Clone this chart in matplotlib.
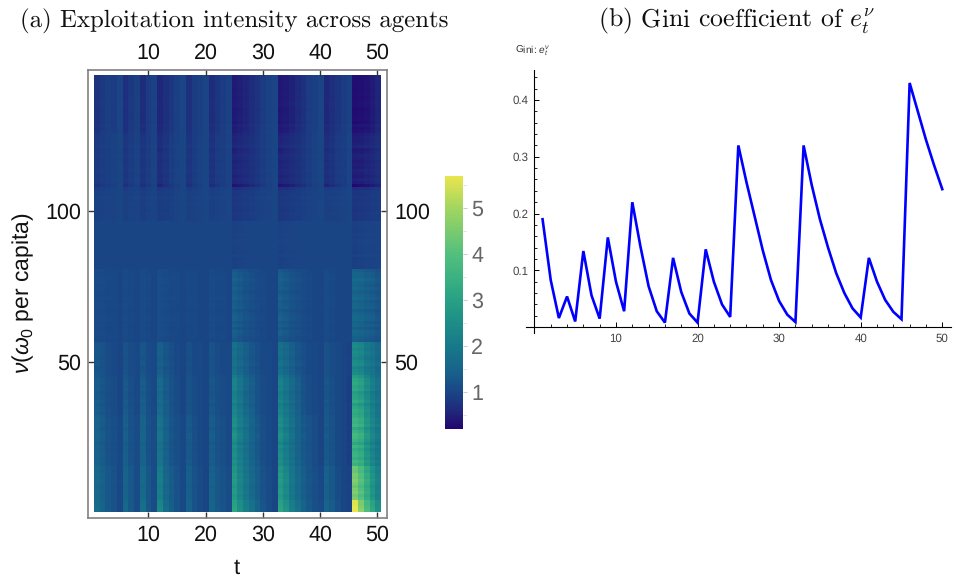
import numpy as np
import matplotlib
matplotlib.use('Agg')
import matplotlib.pyplot as plt
from matplotlib.colors import LinearSegmentedColormap
from matplotlib.ticker import MultipleLocator

plt.rcParams['font.family'] = 'Liberation Sans'
plt.rcParams['mathtext.fontset'] = 'custom'
plt.rcParams['mathtext.rm'] = 'Liberation Sans'
plt.rcParams['mathtext.it'] = 'Liberation Sans:italic'
plt.rcParams['text.hinting'] = 'no_hinting'

# Gini of e_t^nu for t = 1..50
gini = [.19, .083, .016, .054, .01, .134, .056, .015, .158, .08,
        .028, .22, .142, .072, .028, .008, .122, .062, .024, .008,
        .137, .08, .04, .018, .32, .255, .195, .135, .083, .046,
        .022, .009, .32, .25, .19, .14, .095, .06, .033, .017,
        .122, .08, .048, .027, .014, .43, .38, .33, .285, .243]

# exploitation intensity, one row per band of nu, one value per t
band_tops = [4, 15, 32, 45, 56, 80, 96, 107, 125, 144]
band_1 = [1.7, 1.5, 1.3, 1.2, 1.05, 1.6, 1.3, 1.1, 1.75, 1.3, 1.1, 2.3, 1.7, 1.4, 1.2, 1.05, 1.45, 1.2, 1.1, 1.0,
          1.5, 1.3, 1.2, 1.1, 3.0, 2.5, 2.1, 1.8, 1.5, 1.25, 1.1, 1.0, 3.0, 2.6, 2.1, 1.8, 1.5, 1.3, 1.15, 1.1,
          1.5, 1.35, 1.15, 1.0, .95, 5.6, 4.5, 3.7, 3.1, 2.5]
band_2 = [1.65, 1.45, 1.3, 1.2, 1.05, 1.5, 1.3, 1.1, 1.65, 1.3, 1.1, 2.1, 1.6, 1.35, 1.2, 1.05, 1.4, 1.2, 1.1, 1.0,
          1.45, 1.3, 1.2, 1.1, 2.8, 2.3, 1.95, 1.65, 1.4, 1.2, 1.1, 1.0, 2.8, 2.4, 1.95, 1.65, 1.4, 1.25, 1.15, 1.05,
          1.45, 1.3, 1.1, 1.0, .95, 4.5, 4.0, 3.3, 2.7, 2.25]
band_3 = [1.5, 1.35, 1.2, 1.15, 1.05, 1.4, 1.2, 1.1, 1.5, 1.2, 1.1, 1.85, 1.45, 1.25, 1.15, 1.05, 1.3, 1.15, 1.05, 1.0,
          1.35, 1.2, 1.15, 1.05, 2.5, 2.1, 1.8, 1.5, 1.3, 1.15, 1.05, 1.0, 2.45, 2.1, 1.8, 1.5, 1.3, 1.2, 1.1, 1.0,
          1.3, 1.2, 1.05, 1.0, .9, 3.5, 3.3, 2.7, 2.3, 2.0]
band_4 = [1.35, 1.25, 1.15, 1.1, 1.0, 1.3, 1.15, 1.05, 1.35, 1.15, 1.05, 1.65, 1.35, 1.2, 1.1, 1.0, 1.2, 1.1, 1.05, 1.0,
          1.25, 1.15, 1.1, 1.05, 2.2, 1.9, 1.6, 1.4, 1.2, 1.1, 1.05, 1.0, 2.15, 1.9, 1.65, 1.4, 1.2, 1.1, 1.05, 1.0,
          1.25, 1.15, 1.05, 1.0, .9, 3.1, 2.9, 2.45, 2.1, 1.85]
band_5 = [1.25, 1.2, 1.1, 1.05, 1.0, 1.2, 1.1, 1.05, 1.25, 1.1, 1.05, 1.4, 1.25, 1.15, 1.05, 1.0, 1.15, 1.05, 1.05, 1.0,
          1.2, 1.1, 1.05, 1.05, 1.8, 1.6, 1.4, 1.25, 1.15, 1.05, 1.05, 1.0, 1.75, 1.6, 1.4, 1.25, 1.15, 1.05, 1.05, 1.0,
          1.2, 1.1, 1.05, 1.0, .95, 2.4, 2.3, 2.0, 1.85, 1.65]
band_6 = [1.08, 1.08, 1.05, 1.05, 1.0, 1.08, 1.05, 1.0, 1.08, 1.05, 1.0, 1.12, 1.08, 1.05, 1.05, 1.0, 1.05, 1.05, 1.0, 1.0,
          1.08, 1.05, 1.05, 1.0, 1.4, 1.3, 1.2, 1.15, 1.08, 1.05, 1.0, 1.0, 1.38, 1.3, 1.2, 1.15, 1.08, 1.05, 1.0, 1.0,
          1.1, 1.05, 1.0, 1.0, 1.0, 1.55, 1.5, 1.4, 1.35, 1.25]
band_7 = [1.0, 1.0, 1.0, 1.0, 1.0, 1.0, 1.0, 1.0, 1.0, 1.0, 1.0, 1.0, 1.0, 1.0, 1.0, 1.0, 1.0, 1.0, 1.0, 1.0,
          1.0, 1.0, 1.0, 1.0, .95, .97, .98, 1.0, 1.0, 1.0, 1.0, 1.0, .95, .97, .98, 1.0, 1.0, 1.0, 1.0, 1.0,
          1.0, 1.0, 1.0, 1.0, 1.0, .93, .95, .96, .97, .98]
band_8 = [.92, .95, .97, .97, 1.0, .92, .95, .97, .9, .95, .97, .88, .9, .93, .97, 1.0, .93, .95, .97, 1.0,
          .92, .95, .97, .98, .8, .82, .85, .88, .92, .95, .97, 1.0, .8, .82, .85, .88, .92, .95, .97, 1.0,
          .92, .93, .95, .97, 1.0, .78, .8, .82, .85, .88]
band_9 = [.82, .88, .92, .95, 1.0, .8, .88, .95, .78, .88, .97, .68, .78, .88, .95, 1.0, .78, .88, .95, 1.0,
          .75, .85, .9, .97, .55, .6, .65, .72, .8, .88, .95, 1.0, .55, .6, .65, .72, .8, .88, .95, 1.0,
          .68, .75, .85, .9, .98, .48, .5, .55, .6, .68]
band_10 = [.72, .82, .9, .85, .98, .68, .82, .92, .65, .85, .95, .58, .7, .8, .92, .98, .7, .85, .92, .98,
           .65, .78, .88, .95, .42, .48, .55, .65, .75, .85, .95, .98, .4, .45, .52, .62, .72, .85, .92, .98,
           .58, .68, .78, .88, .95, .3, .32, .36, .45, .55]
bands = [band_1, band_2, band_3, band_4, band_5, band_6, band_7, band_8, band_9, band_10]

# row by row stripe strength, nu = 1..144
stripes = [.08, .04, 0, 0, .02, -.04, .04, 0, -.06, 0, .04, -.02, 0, -.08, -.04, 0,
           .08, -.04, .04, 0, -.08, .04, -.12, 0, .08, .1, 0, -.1, .08, 0, .04, -.06,
           .08, .12, .04, -.08, .1, 0, -.04, -.1, .06, 0, .08, .02, -.12, .04, 0, -.08,
           .12, .04, -.08, 0, .08, -.04, .04, 0, -.3, -.2, .05, .15, -.25, .1, -.1, .2,
           .15, -.05, -.25, .1, .05, -.15, .2, 0, -.2, .1, -.1, .05, .25, -.05, 0, -.25,
           0, 0, 0, .4, -.3, .3, 0, 0, -.2, -.3, 0, -.2, .3, 0, 0, 0,
           .05, 0, -.05, .1, 0, -.05, .05, -.1, 0, .05, .5, .4, .05, -.05, .1, 0,
           -.05, .05, 0, .1, 0, -.05, .08, .15, -.1, 0, .05, .03, .1, -.05, 0, -.08,
           .05, 0, 0, .03, .05, 0, -.03, 0, .03, 0, 0, .03, 0, 0, 0, 0]

# colour bar anchors: value, colour
cb_values = [.2, .6, 1.0, 1.4, 2.0, 2.6, 3.2, 4.0, 5.0, 5.7]
cb_colors = ['#230670', '#1f2a7c', '#1a4686', '#185f8b', '#17798a', '#1f9187',
             '#2ea883', '#52bf7e', '#a2d660', '#e9e54e']

v_min, v_max = cb_values[0], cb_values[-1]
cmap = LinearSegmentedColormap.from_list(
    'expl', [((v - v_min) / (v_max - v_min), c) for v, c in zip(cb_values, cb_colors)])

# build the matrix from bands and stripes
rows = []
low = 0
for top, band in zip(band_tops, bands):
    for nu in range(low, top):
        rows.append([1 + (b - 1) * (1 + stripes[nu]) if b > 1 else b - (1 - b + .03) * stripes[nu]
                     for b in band])
    low = top
matrix = np.array(rows)

W, H = 958, 577
fig = plt.figure(figsize=(W / 100, H / 100), dpi=100)


def box(x0, y0, x1, y1):
    return [x0 / W, 1 - y1 / H, (x1 - x0) / W, (y1 - y0) / H]


# (a) heat map
ax = fig.add_axes(box(88, 70, 387, 518))
im = ax.imshow(matrix, origin='lower', extent=[.5, 50.5, .5, 144.5], aspect='auto',
               cmap=cmap, vmin=v_min, vmax=v_max, interpolation='nearest')
ax.set_xlim(-.52, 51.67)
ax.set_ylim(-1.5, 146.4)
ax.set_xticks([10, 20, 30, 40, 50])
ax.set_yticks([50, 100])
ax.tick_params(direction='in', length=4, width=1, top=True, right=True, labeltop=True,
               labelright=True, labelsize=15.5, color='#333333', labelcolor='#111111', pad=5)
for s in ax.spines.values():
    s.set_color('#808080')
    s.set_linewidth(1.2)

fig.text(237 / W, 1 - 568 / H, 't', fontsize=16, ha='center', va='center', color='#111111')
fig.text(23 / W, 1 - 293 / H, r'$\nu$($\omega_0$ per capita)', fontsize=16.5, rotation=90,
         ha='center', va='center', color='#111111')

# colour bar
cax = fig.add_axes(box(445, 175.7, 463, 429))
cb = fig.colorbar(im, cax=cax)
cb.set_ticks([1, 2, 3, 4, 5])
cb.ax.yaxis.set_minor_locator(MultipleLocator(.5))
cb.ax.tick_params(which='major', length=3, width=.8, color='#cccccc', labelsize=15.5,
                  labelcolor='#666666', pad=3)
cb.ax.tick_params(which='minor', length=2, width=.6, color='#dddddd')
cb.outline.set_visible(False)

# (b) Gini line
ax2 = fig.add_axes(box(526, 70, 951, 333))
ax2.plot(range(1, 51), gini, color='#0000ff', lw=1.9, solid_joinstyle='miter')
ax2.set_xlim(-1.03, 51.07)
ax2.set_ylim(-.0103, .4528)
for s in ['top', 'right']:
    ax2.spines[s].set_visible(False)
ax2.spines['left'].set_position(('data', 0))
ax2.spines['bottom'].set_position(('data', 0))
ax2.set_xticks([10, 20, 30, 40, 50])
ax2.set_yticks([.1, .2, .3, .4])
ax2.xaxis.set_minor_locator(MultipleLocator(2))
ax2.yaxis.set_minor_locator(MultipleLocator(.02))
ax2.tick_params(which='major', direction='in', length=3.5, width=.7, labelsize=8.3,
                labelcolor='#444444', pad=4)
ax2.tick_params(which='minor', direction='in', length=2, width=.6)
fig.text(515 / W, 1 - 51 / H, r'Gini: $e_t^{\nu}$', fontsize=7.3, ha='left', va='center', color='#333333')

# titles in Computer Modern
fig.text(20 / W, 1 - 21 / H, '(a) Exploitation intensity across agents', family='cmr10',
         fontsize=17.9, ha='left', va='center', color='#111111')
fig.text(598 / W, 1 - 21 / H, r'(b) Gini coefficient of $e_t^{\nu}$', family='cmr10',
         math_fontfamily='cm', fontsize=18.6, ha='left', va='center', color='#111111')

fig.savefig('out.png', dpi=100)
